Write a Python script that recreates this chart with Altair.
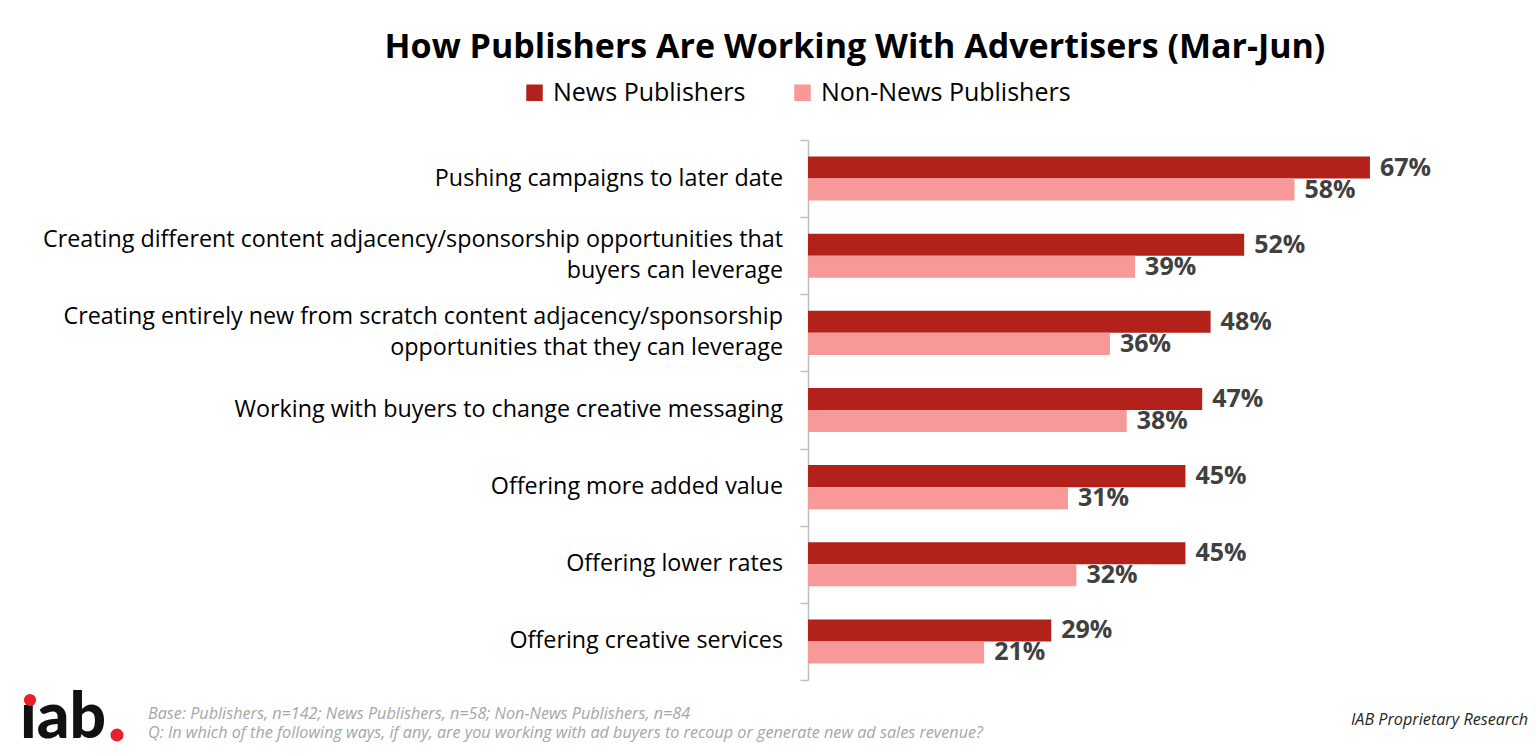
import altair as alt
import pandas as pd

categories = [
    "Pushing campaigns to later date",
    "Creating different content adjacency/sponsorship opportunities that|buyers can leverage",
    "Creating entirely new from scratch content adjacency/sponsorship|opportunities that they can leverage",
    "Working with buyers to change creative messaging",
    "Offering more added value",
    "Offering lower rates",
    "Offering creative services",
]
series = ["News Publishers", "Non-News Publishers"]
news = [67, 52, 48, 47, 45, 45, 29]
non_news = [58, 39, 36, 38, 31, 32, 21]
colors = ["#B2221B", "#F79999"]

title_text = "How Publishers Are Working With Advertisers (Mar-Jun)"
foot_base = "Base: Publishers, n=142; News Publishers, n=58; Non-News Publishers, n=84"
foot_q = "Q: In which of the following ways, if any, are you working with ad buyers to recoup or generate new ad sales revenue?"
foot_right = "IAB Proprietary Research"

rows = []
for c, a, b in zip(categories, news, non_news):
    rows.append({"category": c, "series": series[0], "value": a})
    rows.append({"category": c, "series": series[1], "value": b})
df = pd.DataFrame(rows)
cat_df = pd.DataFrame({"category": categories})

W, H = 671, 540
FONT = "Open Sans"

y_enc = alt.Y(
    "category:N",
    sort=categories,
    scale=alt.Scale(paddingInner=0, paddingOuter=0),
    axis=alt.Axis(
        title=None,
        labels=False,
        tickBand="extent",
        tickSize=8,
        tickColor="#BFBFBF",
        tickWidth=1.5,
        domainColor="#BFBFBF",
        domainWidth=1.5,
    ),
)

base = alt.Chart(df).encode(
    y=y_enc,
    yOffset=alt.YOffset(
        "series:N",
        sort=series,
        scale=alt.Scale(paddingInner=0, paddingOuter=0.75),
    ),
)

bars = base.mark_bar().encode(
    x=alt.X("value:Q", scale=alt.Scale(domain=[0, 80]), axis=None),
    color=alt.Color(
        "series:N",
        sort=series,
        scale=alt.Scale(domain=series, range=colors),
        legend=alt.Legend(
            title=None,
            orient="none",
            direction="horizontal",
            legendX=-286,
            legendY=-60,
            symbolType="square",
            symbolSize=272,
            symbolStrokeWidth=0,
            labelFontSize=25,
            labelFont=FONT,
            labelColor="#000000",
            labelOffset=6,
            columnPadding=44,
            labelLimit=400,
        ),
    ),
)

labels = base.mark_text(
    align="left", baseline="middle", dx=10, fontSize=25, fontWeight="bold",
    font=FONT, color="#404040",
).transform_calculate(lbl="datum.value + '%'").encode(
    x=alt.X("value:Q"),
    text="lbl:N",
)

cat_base = alt.Chart(cat_df).encode(y=alt.Y("category:N", sort=categories))
cat_single = cat_base.mark_text(
    align="right", baseline="middle", fontSize=23.3, font=FONT, color="#000000"
).transform_filter("indexof(datum.category, '|') < 0").encode(
    x=alt.value(-25), text="category:N"
)
cat_double = cat_base.mark_text(
    align="right", baseline="middle", fontSize=23.3, font=FONT, color="#000000",
    lineHeight=31, dy=-15.5,
).transform_filter("indexof(datum.category, '|') >= 0").transform_calculate(
    lines="split(datum.category, '|')"
).encode(
    x=alt.value(-25), text="lines:N"
)

def txt(s, x, y, **kw):
    return alt.Chart(pd.DataFrame({"t": [s]})).mark_text(**kw).encode(
        text="t:N", x=alt.value(x), y=alt.value(y)
    )

title = txt(title_text, 47, -92, fontSize=34, fontWeight="bold", font=FONT,
            color="#000000", align="center", baseline="middle")
f1 = txt(foot_base, -660, 574, fontSize=16.2, fontStyle="italic", font=FONT,
         color="#A6A6A6", align="left", baseline="middle")
f2 = txt(foot_q, -660, 593, fontSize=16.2, fontStyle="italic", font=FONT,
         color="#A6A6A6", align="left", baseline="middle")
fr = txt(foot_right, 720, 580, fontSize=16.2, fontStyle="italic", font=FONT,
         color="#262626", align="right", baseline="middle")
logo = txt("\u0131ab", -788, 598, fontSize=64, fontWeight=900, font="Lato",
           color="#111111", align="left", baseline="alphabetic")
dot1 = alt.Chart(pd.DataFrame({"d": [1]})).mark_point(
    filled=True, shape="circle", color="#E8202A", size=150, opacity=1
).encode(x=alt.value(-778), y=alt.value(560))
dot2 = alt.Chart(pd.DataFrame({"d": [1]})).mark_point(
    filled=True, shape="circle", color="#E8202A", size=170, opacity=1
).encode(x=alt.value(-691), y=alt.value(595))

chart = alt.layer(
    bars, labels, cat_single, cat_double, title, f1, f2, fr, logo, dot1, dot2
).properties(
    width=W, height=H,
    background="white",
    autosize=alt.AutoSizeParams(type="none"),
    padding={"left": 800, "top": 132, "right": 49, "bottom": 64},
).configure_view(stroke=None)

chart.save("out.html", embed_options={"renderer": "svg", "actions": False})
